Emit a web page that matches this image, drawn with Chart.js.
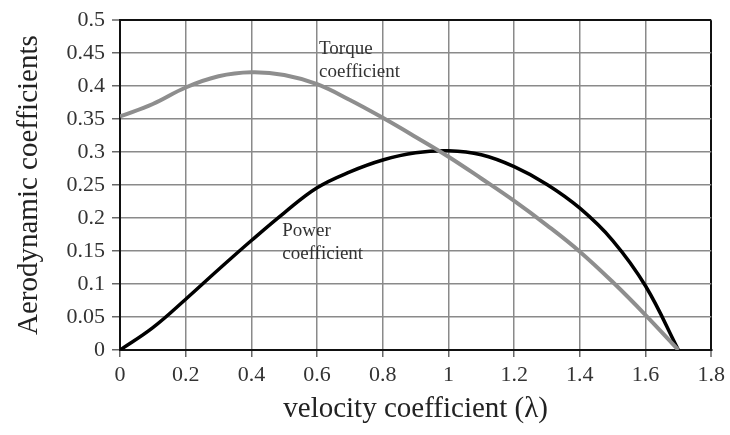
<!DOCTYPE html>
<html>
<head>
<meta charset="utf-8">
<script src="https://cdn.jsdelivr.net/npm/chart.js@4"></script>
<style>
  html, body { margin: 0; padding: 0; background: #fff; }
  canvas { display: block; }
</style>
</head>
<body>
<canvas id="chart" width="730" height="435"></canvas>
<script>
// velocity coefficient (lambda)
const lambda = [0, 0.1, 0.2, 0.3, 0.4, 0.5, 0.6, 0.7, 0.8, 0.9, 1.0, 1.1, 1.2, 1.3, 1.4, 1.5, 1.6, 1.7];
const torqueCoef = [0.354, 0.373, 0.398, 0.415, 0.421, 0.417, 0.403, 0.379, 0.352, 0.323, 0.293, 0.260, 0.226, 0.189, 0.149, 0.103, 0.053, 0];
const powerCoef = [0, 0.034, 0.077, 0.122, 0.166, 0.208, 0.246, 0.270, 0.288, 0.299, 0.302, 0.296, 0.278, 0.251, 0.215, 0.166, 0.097, 0];

const xTicks = [0, 0.2, 0.4, 0.6, 0.8, 1, 1.2, 1.4, 1.6, 1.8];
const yTicks = [0, 0.05, 0.1, 0.15, 0.2, 0.25, 0.3, 0.35, 0.4, 0.45, 0.5];

// curve labels, in data units
const notes = [
  { text: ['Torque', 'coefficient'], x: 0.606, y: 0.456 },
  { text: ['Power', 'coefficient'], x: 0.494, y: 0.181 }
];

const serif = '"Liberation Serif", "Times New Roman", serif';

const notePlugin = {
  id: 'notes',
  afterDraw(chart) {
    const ctx = chart.ctx;
    const xs = chart.scales.x, ys = chart.scales.y;
    ctx.save();
    ctx.font = '19px ' + serif;
    ctx.fillStyle = '#333';
    ctx.textBaseline = 'middle';
    ctx.textAlign = 'left';
    notes.forEach(n => {
      const px = xs.getPixelForValue(n.x);
      const py = ys.getPixelForValue(n.y);
      n.text.forEach((t, i) => ctx.fillText(t, px, py + i * 23));
    });
    ctx.restore();
  }
};

const edge = (max) => (c) => (c.tick && Math.abs(c.tick.value - max) < 1e-9) ? '#111' : '#8a8a8a';
const edgeW = (max) => (c) => (c.tick && Math.abs(c.tick.value - max) < 1e-9) ? 2 : 1.5;
const fmt = (v) => String(+v.toFixed(2));

new Chart(document.getElementById('chart'), {
  type: 'line',
  data: {
    datasets: [
      {
        label: 'Torque coefficient',
        data: lambda.map((x, i) => ({ x: x, y: torqueCoef[i] })),
        borderColor: '#8e8e8e',
        borderWidth: 4,
        pointRadius: 0,
        tension: 0.4
      },
      {
        label: 'Power coefficient',
        data: lambda.map((x, i) => ({ x: x, y: powerCoef[i] })),
        borderColor: '#000',
        borderWidth: 3.5,
        pointRadius: 0,
        tension: 0.4
      }
    ]
  },
  options: {
    responsive: false,
    animation: false,
    layout: { padding: { left: 0, right: 13, top: 19, bottom: 0 } },
    plugins: { legend: { display: false }, tooltip: { enabled: false } },
    scales: {
      x: {
        type: 'linear',
        min: 0,
        max: 1.8,
        afterBuildTicks: (s) => { s.ticks = xTicks.map(v => ({ value: v })); },
        afterFit: (s) => { s.height = 85; },
        ticks: {
          callback: fmt,
          color: '#333',
          font: { family: serif, size: 22 },
          padding: 5,
          maxRotation: 0
        },
        grid: { color: edge(1.8), lineWidth: edgeW(1.8), tickLength: 7, tickColor: '#666', tickWidth: 1.5 },
        border: { display: true, color: '#111', width: 2 },
        title: {
          display: true,
          text: 'velocity coefficient (λ)',
          color: '#222',
          font: { family: serif, size: 29, lineHeight: 1 },
          padding: { top: 0, bottom: 11 }
        }
      },
      y: {
        min: 0,
        max: 0.5,
        afterBuildTicks: (s) => { s.ticks = yTicks.map(v => ({ value: v })); },
        afterFit: (s) => { s.width = 120; },
        ticks: {
          callback: fmt,
          color: '#333',
          font: { family: serif, size: 22 },
          padding: 7
        },
        grid: { color: edge(0.5), lineWidth: edgeW(0.5), tickLength: 8, tickColor: '#666', tickWidth: 1.5 },
        border: { display: true, color: '#111', width: 2 },
        title: {
          display: true,
          text: 'Aerodynamic coefficients',
          color: '#222',
          font: { family: serif, size: 29, lineHeight: 1 },
          padding: { top: 15, bottom: 0 }
        }
      }
    }
  },
  plugins: [notePlugin]
});
</script>
</body>
</html>
